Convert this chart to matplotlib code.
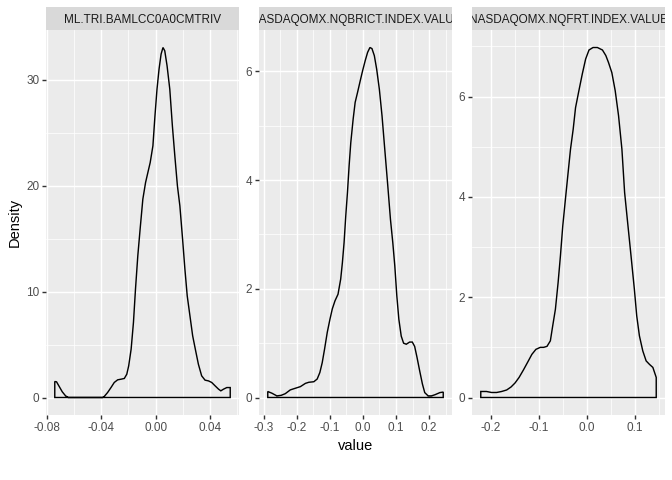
import numpy as np
import matplotlib
matplotlib.use("Agg")
import matplotlib.pyplot as plt
from matplotlib.patches import Polygon

plt.rcParams["font.family"] = ["Liberation Sans", "DejaVu Sans"]

# facet titles
titles = ["ML.TRI.BAMLCC0A0CMTRIV",
          "NASDAQOMX.NQBRICT.INDEX.VALUE",
          "NASDAQOMX.NQFRT.INDEX.VALUE"]

# density curves
x1 = [-0.0741, -0.0728, -0.0711, -0.0686, -0.0662, -0.0642, -0.0390, -0.0378,
      -0.0353, -0.0328, -0.0304, -0.0279, -0.0254, -0.0230, -0.0212, -0.0198,
      -0.0180, -0.0163, -0.0148, -0.0131, -0.0114, -0.0094, -0.0074, -0.0057,
      -0.0040, -0.0020, -0.0005, 0.0010, 0.0025, 0.0040, 0.0054, 0.0067,
      0.0084, 0.0104, 0.0123, 0.0141, 0.0160, 0.0178, 0.0198, 0.0215, 0.0232,
      0.0252, 0.0272, 0.0294, 0.0314, 0.0338, 0.0363, 0.0388, 0.0412, 0.0437,
      0.0462, 0.0479, 0.0499, 0.0523, 0.0548]
y1 = [1.51, 1.48, 1.10, 0.54, 0.16, 0.0, 0.0, 0.09,
      0.47, 0.94, 1.42, 1.67, 1.73, 1.80, 2.20, 2.99,
      4.57, 7.09, 10.24, 13.39, 15.91, 18.74, 20.31, 21.26,
      22.20, 23.78, 26.61, 29.13, 31.02, 32.44, 33.07, 32.76,
      31.34, 29.13, 25.67, 22.83, 20.00, 18.11, 14.96, 12.13, 9.61,
      7.72, 5.83, 4.41, 3.15, 2.05, 1.64, 1.57, 1.42, 1.10,
      0.79, 0.63, 0.79, 0.94, 0.94]

x2 = [-0.2876, -0.2754, -0.2602, -0.2470, -0.2348, -0.2195, -0.2043, -0.1890,
      -0.1738, -0.1636, -0.1484, -0.1382, -0.1301, -0.1230, -0.1159, -0.1077,
      -0.0996, -0.0925, -0.0843, -0.0752, -0.0671, -0.0620, -0.0569, -0.0518,
      -0.0467, -0.0417, -0.0366, -0.0295, -0.0234, -0.0163, -0.0091, -0.0010,
      0.0071, 0.0142, 0.0213, 0.0274, 0.0346, 0.0417, 0.0498, 0.0579, 0.0661,
      0.0752, 0.0833, 0.0904, 0.0965, 0.1026, 0.1087, 0.1159, 0.1230, 0.1311,
      0.1413, 0.1494, 0.1565, 0.1636, 0.1717, 0.1799, 0.1870, 0.1972, 0.2073,
      0.2175, 0.2327, 0.2429]
y2 = [0.11, 0.08, 0.03, 0.04, 0.07, 0.14, 0.17, 0.20,
      0.26, 0.28, 0.29, 0.34, 0.46, 0.64, 0.89, 1.20,
      1.44, 1.63, 1.78, 1.90, 2.18, 2.48, 2.85, 3.34,
      3.77, 4.26, 4.69, 5.12, 5.43, 5.61, 5.80, 6.01,
      6.20, 6.35, 6.44, 6.42, 6.29, 6.04, 5.67, 5.18, 4.57,
      3.90, 3.28, 2.85, 2.42, 1.87, 1.44, 1.13, 1.00, 0.98,
      1.02, 1.02, 0.94, 0.74, 0.49, 0.25, 0.09, 0.03, 0.03,
      0.05, 0.09, 0.10]

x3 = [-0.2203, -0.2084, -0.1979, -0.1874, -0.1769, -0.1664, -0.1573, -0.1490,
      -0.1406, -0.1315, -0.1224, -0.1140, -0.1056, -0.0965, -0.0895, -0.0825,
      -0.0755, -0.0706, -0.0650, -0.0594, -0.0545, -0.0497, -0.0441, -0.0385,
      -0.0336, -0.0280, -0.0231, -0.0161, -0.0091, -0.0021, 0.0049, 0.0133,
      0.0224, 0.0329, 0.0399, 0.0455, 0.0524, 0.0594, 0.0664, 0.0734, 0.0790,
      0.0853, 0.0923, 0.0993, 0.1042, 0.1098, 0.1168, 0.1238, 0.1308, 0.1378,
      0.1448]
y3 = [0.12, 0.12, 0.10, 0.10, 0.12, 0.15, 0.21, 0.29,
      0.40, 0.55, 0.71, 0.86, 0.96, 1.00, 1.00, 1.02,
      1.13, 1.43, 1.76, 2.29, 2.83, 3.42, 3.96, 4.49,
      4.95, 5.35, 5.78, 6.12, 6.45, 6.75, 6.93, 6.98,
      6.98, 6.93, 6.82, 6.68, 6.48, 6.12, 5.62, 4.95, 4.09,
      3.49, 2.83, 2.16, 1.63, 1.23, 0.93, 0.73, 0.66, 0.60,
      0.40]

xs = [x1, x2, x3]
ys = [y1, y2, y3]

xticks = [[-0.08, -0.04, 0.00, 0.04],
          [-0.3, -0.2, -0.1, 0.0, 0.1, 0.2],
          [-0.2, -0.1, 0.0, 0.1]]
xfmt = ["{:.2f}", "{:.1f}", "{:.1f}"]
yticks = [[0, 10, 20, 30], [0, 2, 4, 6], [0, 2, 4, 6]]

W, H = 672, 480
fig = plt.figure(figsize=(W / 100, H / 100), dpi=100)

panel_left = [46, 259, 472]
panel_w = 193
top, bottom = 30, 415
strip_h = 23

GRID_MAJ = 1.02
GRID_MIN = 0.51
FS = 8.45


def minors(major, lo, hi):
    step = major[1] - major[0]
    cand = [major[0] - step / 2] + [m + step / 2 for m in major]
    return [c for c in cand if lo <= c <= hi]


for i in range(3):
    x = np.array(xs[i])
    y = np.array(ys[i])
    l = panel_left[i] / W
    ax = fig.add_axes([l, 1 - bottom / H, panel_w / W, (bottom - top) / H])
    ax.set_facecolor("#EBEBEB")
    for s in ax.spines.values():
        s.set_visible(False)

    xr = x.max() - x.min()
    xlo, xhi = x.min() - 0.05 * xr, x.max() + 0.05 * xr
    ylo, yhi = -0.05 * y.max(), y.max() * 1.05
    ax.set_xlim(xlo, xhi)
    ax.set_ylim(ylo, yhi)

    # grid
    for v in minors(xticks[i], xlo, xhi):
        ax.axvline(v, color="white", lw=GRID_MIN, zorder=0)
    for v in minors(yticks[i], ylo, yhi):
        ax.axhline(v, color="white", lw=GRID_MIN, zorder=0)
    for v in xticks[i]:
        ax.axvline(v, color="white", lw=GRID_MAJ, zorder=0)
    for v in yticks[i]:
        ax.axhline(v, color="white", lw=GRID_MAJ, zorder=0)

    # closed density outline, like geom_density with no fill
    px = np.concatenate([[x[0]], x, [x[-1]]])
    py = np.concatenate([[0], y, [0]])
    ax.add_patch(Polygon(np.column_stack([px, py]), closed=True,
                         facecolor="none", edgecolor="black", lw=1.02, zorder=3))

    ax.set_xticks(xticks[i])
    ax.set_xticklabels([xfmt[i].format(v) for v in xticks[i]])
    ax.set_yticks(yticks[i])
    ax.set_yticklabels([str(v) for v in yticks[i]])
    ax.tick_params(length=2.64, width=1.02, color="#333333", labelcolor="#4D4D4D",
                   labelsize=FS, pad=2.1)

    # facet strip
    sax = fig.add_axes([l, 1 - top / H, panel_w / W, strip_h / H])
    sax.set_facecolor("#D9D9D9")
    sax.set_xticks([])
    sax.set_yticks([])
    for s in sax.spines.values():
        s.set_visible(False)
    t = sax.text(0.5, 0.45, titles[i], transform=sax.transAxes, ha="center",
                 va="center", fontsize=FS, color="#1A1A1A", clip_on=True)
    t.set_clip_path(sax.patch)

fig.text(15 / W, 1 - 222.5 / H, "Density", rotation=90, ha="center", va="center",
         fontsize=10.56, color="black")
fig.text(355.5 / W, 1 - 446 / H, "value", ha="center", va="center",
         fontsize=10.56, color="black")

fig.savefig("out.png", dpi=100)
